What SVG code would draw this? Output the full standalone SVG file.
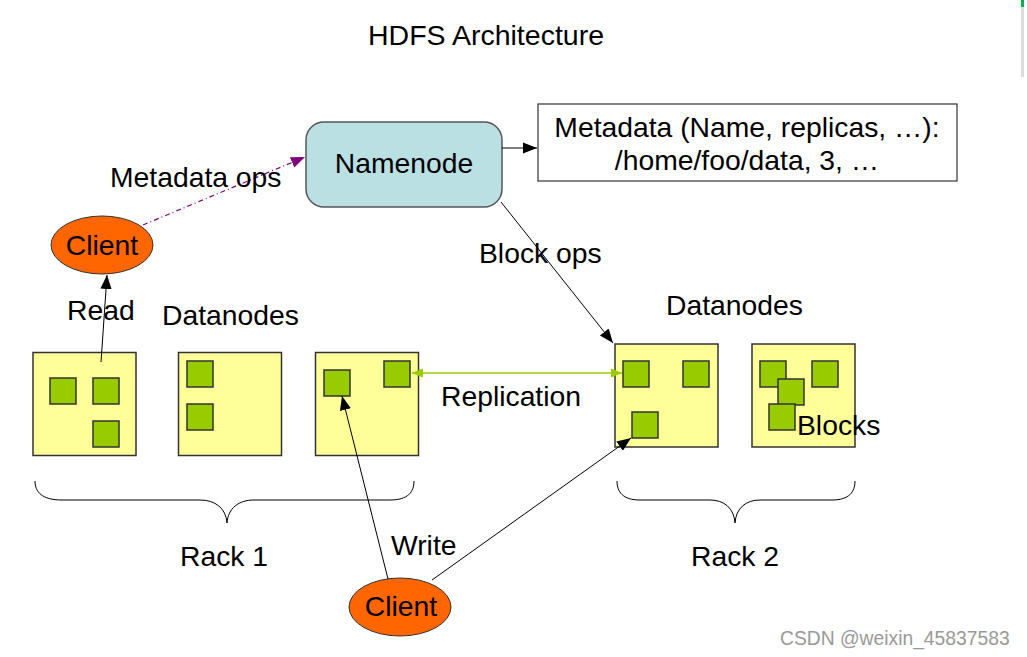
<svg xmlns="http://www.w3.org/2000/svg" width="1027" height="657" viewBox="0 0 1027 657">
<style>
text{font-family:"Liberation Sans",Arial,sans-serif;font-size:28.3px;fill:#000}
.t{font-size:28.5px}
.dn{fill:#ffff99;stroke:#333;stroke-width:1.5}
.bk{fill:#99cc00;stroke:#333;stroke-width:1.5}
.cl{fill:#ff6600;stroke:#333;stroke-width:1}
.ln{fill:none;stroke:#000;stroke-width:1}
.br{fill:none;stroke:#000;stroke-width:1}
.wm{font-size:19.3px;fill:#999}
</style>
<defs>
<marker id="ab" viewBox="0 0 10 10" refX="10" refY="5" markerWidth="14" markerHeight="14" markerUnits="userSpaceOnUse" orient="auto"><path d="M0,1 L10,5 L0,9 Z" fill="#000"/></marker>
<marker id="ap" viewBox="0 0 10 10" refX="10" refY="5" markerWidth="14" markerHeight="14" markerUnits="userSpaceOnUse" orient="auto"><path d="M0,1 L10,5 L0,9 Z" fill="#800080"/></marker>
<marker id="ag" viewBox="0 0 10 10" refX="10" refY="5" markerWidth="11" markerHeight="11" markerUnits="userSpaceOnUse" orient="auto-start-reverse"><path d="M0,1 L10,5 L0,9 Z" fill="#99cc00"/></marker>
</defs>
<rect width="1027" height="657" fill="#fff"/>
<rect x="1021" y="0" width="3" height="77" fill="#dcdcdc"/>
<rect x="1021" y="0" width="3" height="7" fill="#00b050"/>
<text class="t" x="486" y="45" text-anchor="middle">HDFS Architecture</text>

<g id="namenode">
<rect x="306" y="122" width="196" height="85" rx="18" fill="#bbe0e3" stroke="#555" stroke-width="1.5"/>
<text x="404" y="173" text-anchor="middle">Namenode</text>
</g>
<g id="metadata">
<rect x="538" y="104" width="419" height="77" fill="#fff" stroke="#333" stroke-width="1.2"/>
<text x="747" y="137" text-anchor="middle">Metadata (Name, replicas, …):</text>
<text x="747" y="170" text-anchor="middle">/home/foo/data, 3, …</text>
</g>
<g id="client1">
<ellipse class="cl" cx="102" cy="245" rx="51" ry="29"/>
<text x="102" y="255" text-anchor="middle">Client</text>
</g>
<g id="client2">
<ellipse class="cl" cx="400" cy="607" rx="51" ry="29"/>
<text x="401" y="616" text-anchor="middle">Client</text>
</g>

<g id="rack1-dn1">
<rect class="dn" x="33" y="352.5" width="103" height="103"/>
<rect class="bk" x="50" y="378" width="26" height="26"/>
<rect class="bk" x="93" y="378" width="26" height="26"/>
<rect class="bk" x="93" y="421" width="26" height="26"/>
</g>
<g id="rack1-dn2">
<rect class="dn" x="178.5" y="352.5" width="103" height="103"/>
<rect class="bk" x="187" y="361" width="26" height="26"/>
<rect class="bk" x="187" y="404" width="26" height="26"/>
</g>
<g id="rack1-dn3">
<rect class="dn" x="315.5" y="352.5" width="103" height="103"/>
<rect class="bk" x="324" y="370" width="26" height="26"/>
<rect class="bk" x="384" y="361" width="26" height="26"/>
</g>
<g id="rack2-dn1">
<rect class="dn" x="615" y="344" width="103" height="103"/>
<rect class="bk" x="623" y="361" width="26" height="26"/>
<rect class="bk" x="683" y="361" width="26" height="26"/>
<rect class="bk" x="632" y="412" width="26" height="26"/>
</g>
<g id="rack2-dn2">
<rect class="dn" x="752" y="344" width="103" height="103"/>
<rect class="bk" x="760" y="361" width="26" height="26"/>
<rect class="bk" x="812" y="361" width="26" height="26"/>
<rect class="bk" x="778" y="379" width="26" height="26"/>
<rect class="bk" x="769" y="404" width="26" height="26"/>
</g>

<g id="connectors">
<line class="ln" x1="502" y1="148" x2="537" y2="148" marker-end="url(#ab)"/>
<line x1="143" y1="225" x2="305" y2="157" stroke="#800080" stroke-width="1.2" stroke-dasharray="5,3,1,3" marker-end="url(#ap)"/>
<line class="ln" x1="501" y1="202" x2="613" y2="343" marker-end="url(#ab)"/>
<line class="ln" x1="101" y1="362" x2="107" y2="275" marker-end="url(#ab)"/>
<line x1="412" y1="373" x2="622" y2="373" stroke="#99cc00" stroke-width="1.5" marker-start="url(#ag)" marker-end="url(#ag)"/>
<line class="ln" x1="388" y1="579" x2="342" y2="396" marker-end="url(#ab)"/>
<line class="ln" x1="432" y1="580" x2="631" y2="438" marker-end="url(#ab)"/>
</g>

<g id="labels">
<text x="110" y="187">Metadata ops</text>
<text x="479" y="263">Block ops</text>
<text x="67" y="320">Read</text>
<text x="162" y="325">Datanodes</text>
<text x="666" y="315">Datanodes</text>
<text x="441" y="406">Replication</text>
<text x="797" y="435">Blocks</text>
<text x="391" y="555">Write</text>
<text x="180" y="566">Rack 1</text>
<text x="691" y="566">Rack 2</text>
</g>

<g id="braces">
<path class="br" d="M35,481 C35,492 42,500 62,500 L200,500 C215,500 226,508 227,523 C228,508 239,500 254,500 L390,500 C408,500 414,492 414,481"/>
<path class="br" d="M617,481 C617,492 623,500 640,500 L710,500 C724,500 734,508 735,523 C736,508 746,500 760,500 L832,500 C849,500 855,492 855,481"/>
</g>
<text class="wm" x="780" y="645">CSDN @weixin_45837583</text>
</svg>
